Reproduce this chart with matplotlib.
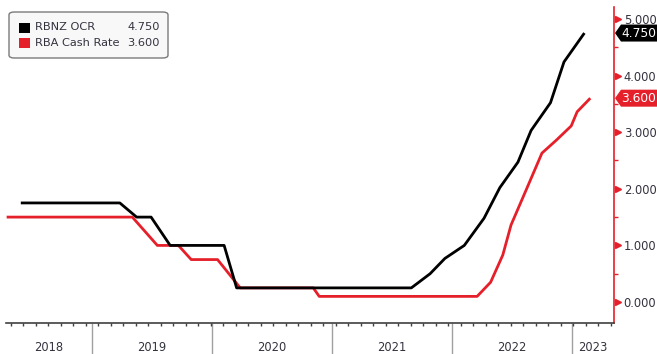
import matplotlib
matplotlib.use("Agg")
import matplotlib.pyplot as plt
import matplotlib.dates as mdates
import matplotlib.transforms as mtransforms
from matplotlib.patches import Polygon, FancyBboxPatch, Rectangle
import numpy as np
from datetime import datetime

# ---------------- data ----------------
rbnz_dates = ["2018-05-31", "2019-03-28", "2019-05-18", "2019-07-01", "2019-08-28",
              "2020-02-08", "2020-03-17", "2021-08-30", "2021-10-26", "2021-12-10",
              "2022-02-07", "2022-04-08", "2022-05-26", "2022-07-20", "2022-08-29",
              "2022-10-27", "2022-12-07", "2023-02-07"]
rbnz_values = [1.75, 1.75, 1.50, 1.50, 1.00,
               1.00, 0.25, 0.25, 0.50, 0.77,
               1.00, 1.48, 2.02, 2.47, 3.03,
               3.52, 4.24, 4.75]

rba_dates = ["2018-04-18", "2019-05-05", "2019-07-20", "2019-09-22", "2019-10-31",
             "2020-01-19", "2020-03-28", "2020-11-05", "2020-11-23", "2022-03-18",
             "2022-04-28", "2022-06-04", "2022-06-29", "2022-08-14", "2022-10-01",
             "2022-11-14", "2022-12-29", "2023-01-16", "2023-02-25"]
rba_values = [1.50, 1.50, 1.00, 1.00, 0.75,
              0.75, 0.25, 0.25, 0.10, 0.10,
              0.35, 0.83, 1.36, 1.98, 2.63,
              2.86, 3.11, 3.36, 3.60]

series_names = ["RBNZ OCR", "RBA Cash Rate"]
last_labels = ["4.750", "3.600"]
last_values = [4.75, 3.60]
year_labels = ["2018", "2019", "2020", "2021", "2022", "2023"]
y_ticks = [0, 1, 2, 3, 4, 5]
y_minor = [0.5, 1.5, 2.5, 3.5, 4.5]
x_range = ["2018-04-16", "2023-05-08"]

BLACK = "#000000"
RED = "#e6202b"
TXT = "#333340"

W, H = 657, 354
plt.rcParams['font.family'] = ['DejaVu Sans']
fig = plt.figure(figsize=(W / 100, H / 100), dpi=100)
fig.patch.set_facecolor("white")
ax = fig.add_axes([6 / W, 31 / H, 608 / W, 316 / H])

def to_num(lst):
    return mdates.date2num([datetime.strptime(d, "%Y-%m-%d") for d in lst])

ax.plot(to_num(rba_dates), rba_values, color=RED, lw=2.0, solid_capstyle="butt", zorder=3)
ax.plot(to_num(rbnz_dates), rbnz_values, color=BLACK, lw=2.0, solid_capstyle="butt", zorder=4)

x0, x1 = to_num(x_range)
ax.set_xlim(x0, x1)
ax.set_ylim(-0.37, 5.21)

# spines
for s in ("left", "top"):
    ax.spines[s].set_visible(False)
ax.spines["right"].set_color(RED)
ax.spines["right"].set_linewidth(1.2)
ax.spines["bottom"].set_color("#404040")
ax.spines["bottom"].set_linewidth(1.2)

# y axis on the right
ax.yaxis.tick_right()
ax.set_yticks(y_ticks)
ax.set_yticklabels([f"{v:.3f}" for v in y_ticks])
ax.set_yticks(y_minor, minor=True)
ax.tick_params(axis="y", which="major", length=0, pad=7, labelsize=8.3, labelcolor=TXT)
ax.tick_params(axis="y", which="minor", length=3, width=1, color=RED, direction="out")
tri_tr = ax.get_yaxis_transform() + mtransforms.ScaledTranslation(3.5 / 100, 0, fig.dpi_scale_trans)
ax.plot(np.ones(len(y_ticks)), y_ticks, ls="none", marker=">", ms=4.5, color=RED,
        transform=tri_tr, clip_on=False, zorder=5)

# x axis: year separators + small ticks
year_starts = to_num([f"{y}-01-01" for y in range(2019, 2024)])
ax.set_xticks(year_starts)
ax.set_xticklabels([])
ax.tick_params(axis="x", which="major", length=22.5, width=1, color="#a0a0a0")
ax.xaxis.set_minor_locator(mdates.DayLocator(interval=38))
ax.tick_params(axis="x", which="minor", length=2.5, width=1, color="#404040")

bt = mtransforms.blended_transform_factory(ax.transData, ax.transAxes)
for lab in year_labels:
    y = int(lab)
    a = max(to_num([f"{y}-01-01"])[0], x0)
    b = min(to_num([f"{y + 1}-01-01"])[0], x1)
    ax.text((a + b) / 2, -0.076, lab, transform=bt, ha="center", va="center",
            fontsize=8.3, color=TXT)

# legend box
def fx(x):
    return x / W

def fy(y):
    return 1 - y / H

box = FancyBboxPatch((fx(9), fy(58)), fx(168) - fx(9), fy(12) - fy(58),
                     boxstyle="round,pad=0,rounding_size=0.008",
                     transform=fig.transFigure, facecolor="#f8f8f8", edgecolor="#7a7a7a",
                     lw=1.0, zorder=10)
fig.patches.append(box)
for i, (name, val, col) in enumerate(zip(series_names, last_labels, [BLACK, RED])):
    yc = 27.5 + i * 15.5
    fig.patches.append(Rectangle((fx(19), fy(yc + 5)), fx(30) - fx(19), fy(yc - 5) - fy(yc + 5),
                                 transform=fig.transFigure, facecolor=col, edgecolor="none", zorder=11))
    fig.text(fx(35), fy(yc), name, ha="left", va="center", fontsize=8.2, color=TXT, zorder=12)
    fig.text(fx(160), fy(yc), val, ha="right", va="center", fontsize=8.2, color=TXT, zorder=12)

# last value tags
inv = fig.transFigure.inverted()
for val, lab, col in zip(last_values, last_labels, [BLACK, RED]):
    yd = ax.transData.transform((x0, val))[1]
    _, yf = inv.transform((0, yd))
    h = 8.5 / H
    pts = [(fx(615), yf), (fx(621), yf + h), (1.0, yf + h), (1.0, yf - h), (fx(621), yf - h)]
    fig.patches.append(Polygon(pts, closed=True, transform=fig.transFigure,
                               facecolor=col, edgecolor="none", zorder=10))
    fig.text(fx(638.5), yf, lab, ha="center", va="center", fontsize=8.8, color="white", zorder=12)

fig.savefig("out.png", dpi=100, facecolor="white")
